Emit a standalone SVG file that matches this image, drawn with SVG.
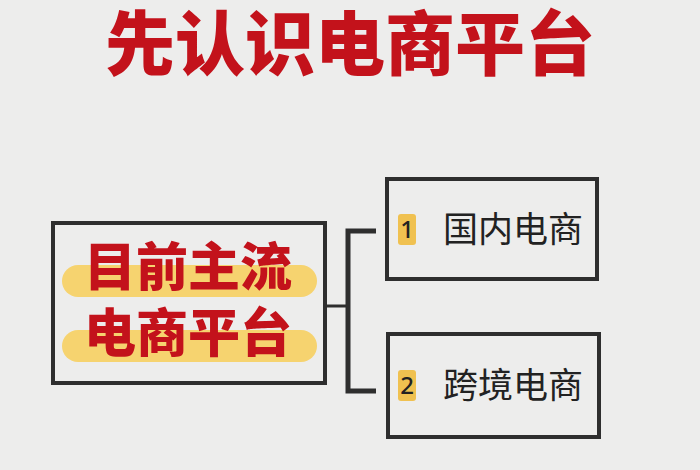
<svg xmlns="http://www.w3.org/2000/svg" width="700" height="470" viewBox="0 0 700 470">
<style>
.cjk{font-family:"Noto Sans CJK SC","Noto Sans",sans-serif}
.title{font-size:70px;font-weight:900;fill:#c3121b}
.main{font-size:52px;font-weight:900;fill:#c3121b}
.item{font-size:35px;font-weight:400;fill:#222}
.num{font-family:"Noto Sans","Liberation Sans",sans-serif;font-size:24px;font-weight:500;fill:#222}
.box{fill:none;stroke:#2e2e2e;stroke-width:4}
.hl{fill:#f6d36f}
.badge{fill:#f0c150}
.conn{stroke:#2e2e2e;fill:none}
</style>
<rect width="700" height="470" fill="#ededec"/>
<text class="cjk title" x="350" y="70" text-anchor="middle">先认识电商平台</text>
<g id="connectors">
<line class="conn" x1="325" y1="306" x2="348" y2="306" stroke-width="3"/>
<polyline class="conn" points="376,231 348,231 348,391 376,391" stroke-width="5"/>
</g>
<g id="main">
<rect class="box" x="53" y="223" width="272" height="160"/>
<rect class="hl" x="62" y="265" width="255" height="32" rx="16"/>
<rect class="hl" x="62" y="330" width="255" height="32" rx="16"/>
<text class="cjk main" x="188" y="286" text-anchor="middle">目前主流</text>
<text class="cjk main" x="188" y="352" text-anchor="middle">电商平台</text>
</g>
<g id="domestic">
<rect class="box" x="387" y="179" width="210" height="100"/>
<rect class="badge" x="398" y="214" width="18" height="31" rx="3"/>
<text class="num" x="407" y="238" text-anchor="middle">1</text>
<text class="cjk item" x="443" y="242">国内电商</text>
</g>
<g id="crossborder">
<rect class="box" x="388" y="334" width="211" height="103"/>
<rect class="badge" x="398" y="370" width="18" height="31" rx="3"/>
<text class="num" x="407" y="394" text-anchor="middle">2</text>
<text class="cjk item" x="443" y="398">跨境电商</text>
</g>
</svg>
